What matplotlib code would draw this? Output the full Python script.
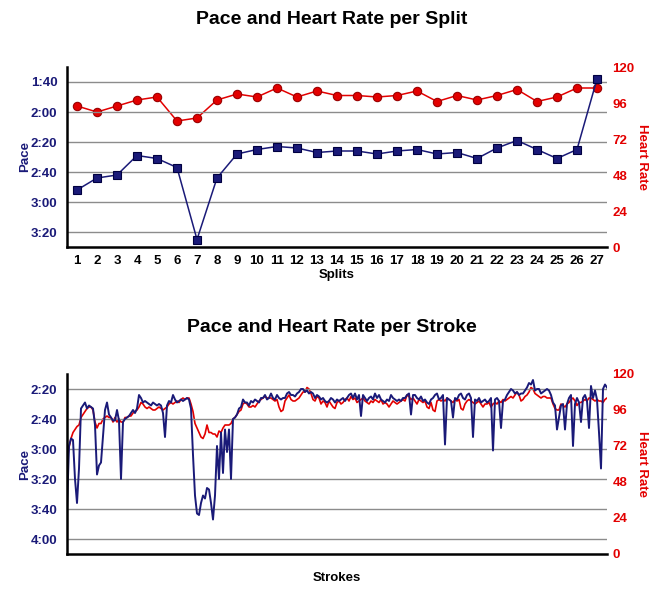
import matplotlib
matplotlib.use('Agg')
import matplotlib.pyplot as plt
from matplotlib.ticker import FixedLocator, FuncFormatter

plt.rcParams['font.family'] = ['Liberation Sans', 'DejaVu Sans']
plt.rcParams['font.weight'] = 'bold'

# per split data (pace in seconds per 500m, heart rate in bpm)
splits = list(range(1, 28))
split_pace = [172, 164, 162, 149, 151, 157, 205, 164, 148, 145, 143, 144, 147,
              146, 146, 148, 146, 145, 148, 147, 151, 144, 139, 145, 151, 145, 98]
split_hr = [94, 90, 94, 98, 100, 84, 86, 98, 102, 100, 106, 100, 104,
            101, 101, 100, 101, 104, 97, 101, 98, 101, 105, 97, 100, 106, 106]

# per stroke data
stroke_pace = [
    220, 178, 173, 174, 200, 216, 193, 153, 151, 149, 153, 151, 152, 153, 164, 197,
    191, 189, 171, 154, 149, 157, 159, 161, 161, 154, 161, 200, 162, 160, 159, 158,
    156, 154, 156, 153, 144, 146, 149, 148, 149, 150, 151, 149, 150, 151,
    150, 151, 156, 172, 151, 148, 149, 144, 147, 149, 148, 147, 148, 147, 146, 147,
    153, 184, 211, 223, 224, 216, 211, 213, 206, 207, 216, 227, 211, 178, 200, 169,
    196, 167, 182, 167, 200, 160, 159, 157, 153, 152, 147, 149, 149, 151,
    148, 149, 147, 148, 149, 146, 146, 144, 147, 146, 143, 146, 147, 144, 146, 147,
    146, 146, 143, 142, 144, 144, 145, 143, 142, 140, 140, 142, 141, 143, 142, 143,
    146, 144, 145, 147, 146, 148, 149, 148, 146, 147, 149, 147, 148,
    147, 146, 148, 146, 144, 143, 146, 143, 147, 144, 158, 144, 146, 148, 146, 145,
    147, 143, 146, 144, 147, 148, 149, 147, 148, 144, 146, 147, 148, 147, 148, 146,
    146, 144, 143, 157, 144, 144, 146, 147, 145, 148, 147, 149, 150,
    147, 146, 144, 143, 147, 146, 144, 177, 146, 147, 148, 159, 146, 147, 144, 143,
    146, 147, 144, 143, 146, 172, 147, 148, 146, 149, 148, 147, 149, 148, 146, 181,
    147, 146, 148, 166, 148, 147, 144, 142, 140, 141, 143, 142, 144,
    143, 143, 141, 139, 136, 137, 134, 141, 140, 140, 143, 142, 141, 140, 141, 144,
    149, 151, 167, 159, 151, 150, 167, 150, 146, 144, 178, 150, 146, 149, 162, 146,
    144, 148, 166, 138, 146, 141, 147, 169, 193, 140, 137, 139]
stroke_hr = [
    61, 71, 77, 81, 83, 85, 86, 91, 93, 95, 97, 98, 98, 96, 88, 84,
    87, 87, 90, 91, 92, 91, 91, 88, 91, 88, 90, 88, 88, 91, 91, 92,
    92, 94, 95, 96, 98, 101, 100, 98, 97, 98, 97, 96, 96, 97,
    98, 97, 96, 97, 98, 100, 101, 100, 101, 102, 101, 103, 104, 103, 104, 104,
    100, 95, 87, 84, 81, 78, 77, 80, 86, 81, 81, 80, 80, 78, 82, 81,
    84, 86, 86, 86, 87, 90, 91, 93, 95, 96, 100, 101, 100, 98,
    98, 99, 98, 100, 102, 103, 104, 105, 104, 104, 104, 103, 102, 103, 98, 95,
    96, 102, 104, 106, 103, 102, 102, 103, 104, 106, 108, 108, 111, 110, 107, 103,
    102, 105, 104, 100, 102, 101, 98, 102, 100, 98, 97, 101, 102,
    100, 101, 103, 104, 102, 105, 103, 104, 101, 102, 103, 104, 102, 101, 100, 102,
    101, 103, 102, 101, 103, 100, 101, 100, 98, 100, 102, 101, 100, 101, 102, 103,
    102, 106, 105, 103, 104, 102, 100, 103, 102, 101, 102, 98, 97,
    101, 96, 95, 102, 103, 102, 103, 102, 104, 103, 102, 101, 103, 102, 103, 97,
    96, 100, 102, 103, 102, 101, 100, 101, 102, 100, 98, 100, 100, 101, 98, 100,
    101, 100, 102, 101, 103, 102, 103, 104, 105, 104, 106, 108, 106,
    102, 103, 105, 106, 108, 111, 110, 107, 106, 105, 104, 105, 105, 104, 104, 104,
    100, 97, 96, 96, 100, 99, 98, 100, 101, 103, 104, 102, 99, 101, 101, 102,
    103, 102, 104, 104, 103, 102, 103, 102, 102, 101, 103, 104]
strokes = list(range(len(stroke_pace)))

pace_ticks_top = [100, 120, 140, 160, 180, 200]
pace_ticks_bot = [140, 160, 180, 200, 220, 240]
hr_ticks = [0, 24, 48, 72, 96, 120]

navy = '#1a1a78'
red = '#e30000'
W, H = 672, 598


def mmss(v, pos=None):
    return '%d:%02d' % (v // 60, v % 60)


def setup(ax, axr, pace_lim, pace_ticks):
    ax.set_ylim(*pace_lim)
    ax.yaxis.set_major_locator(FixedLocator(pace_ticks))
    ax.yaxis.set_major_formatter(FuncFormatter(mmss))
    ax.grid(axis='y', color='#8c8c8c', lw=1)
    ax.tick_params(axis='y', length=0, pad=7, labelsize=9.5, labelcolor=navy)
    ax.tick_params(axis='x', length=0, pad=6, labelsize=9.5, labelcolor='black')
    axr.set_ylim(0, 120)
    axr.yaxis.set_major_locator(FixedLocator(hr_ticks))
    axr.tick_params(axis='y', length=0, pad=4, labelsize=9.5, labelcolor=red)
    for s in ['top', 'right']:
        ax.spines[s].set_visible(False)
    for s in ['top', 'right', 'left', 'bottom']:
        axr.spines[s].set_visible(False)
    ax.spines['left'].set_linewidth(1.8)
    ax.spines['bottom'].set_linewidth(1.8)
    ax.set_zorder(axr.get_zorder() + 1)
    ax.patch.set_visible(False)


fig = plt.figure(figsize=(W / 100, H / 100), dpi=100)

# split chart
ax1 = fig.add_axes([67 / W, 1 - 247 / H, 540 / W, 180 / H])
ax1r = ax1.twinx()
setup(ax1, ax1r, (210, 90), pace_ticks_top)
ax1r.plot(splits, split_hr, '-o', color=red, lw=1.1, ms=6,
          mfc=red, mec='#9a0000', mew=0.8)
ax1.plot(splits, split_pace, '-s', color=navy, lw=1.1, ms=6,
         mfc=navy, mec='#000040', mew=0.8)
ax1.set_xlim(0.5, 27.5)
ax1.set_xticks(splits)

fig.text(0.494, 1 - 20 / H, 'Pace and Heart Rate per Split', ha='center',
         va='center', fontsize=14, fontweight='bold')
fig.text(337 / W, 1 - 275 / H, 'Splits', ha='center', va='center', fontsize=9.5)
fig.text(25 / W, 1 - 157 / H, 'Pace', ha='center', va='center', rotation=90,
         fontsize=9.5, color=navy)
fig.text(642 / W, 1 - 157 / H, 'Heart Rate', ha='center', va='center',
         rotation=270, fontsize=9.5, color=red)

# stroke chart
ax2 = fig.add_axes([67 / W, 1 - 554 / H, 540 / W, 180 / H])
ax2r = ax2.twinx()
setup(ax2, ax2r, (250, 130), pace_ticks_bot)
ax2r.plot(strokes, stroke_hr, '-', color=red, lw=1.2)
ax2.plot(strokes, stroke_pace, '-', color=navy, lw=1.4)
ax2.set_xlim(0, len(strokes) - 1)
ax2.set_xticks([])

fig.text(0.494, 1 - 328 / H, 'Pace and Heart Rate per Stroke', ha='center',
         va='center', fontsize=14, fontweight='bold')
fig.text(337 / W, 1 - 578 / H, 'Strokes', ha='center', va='center', fontsize=9.5)
fig.text(25 / W, 1 - 464 / H, 'Pace', ha='center', va='center', rotation=90,
         fontsize=9.5, color=navy)
fig.text(642 / W, 1 - 464 / H, 'Heart Rate', ha='center', va='center',
         rotation=270, fontsize=9.5, color=red)

fig.savefig('out.png', dpi=100)
